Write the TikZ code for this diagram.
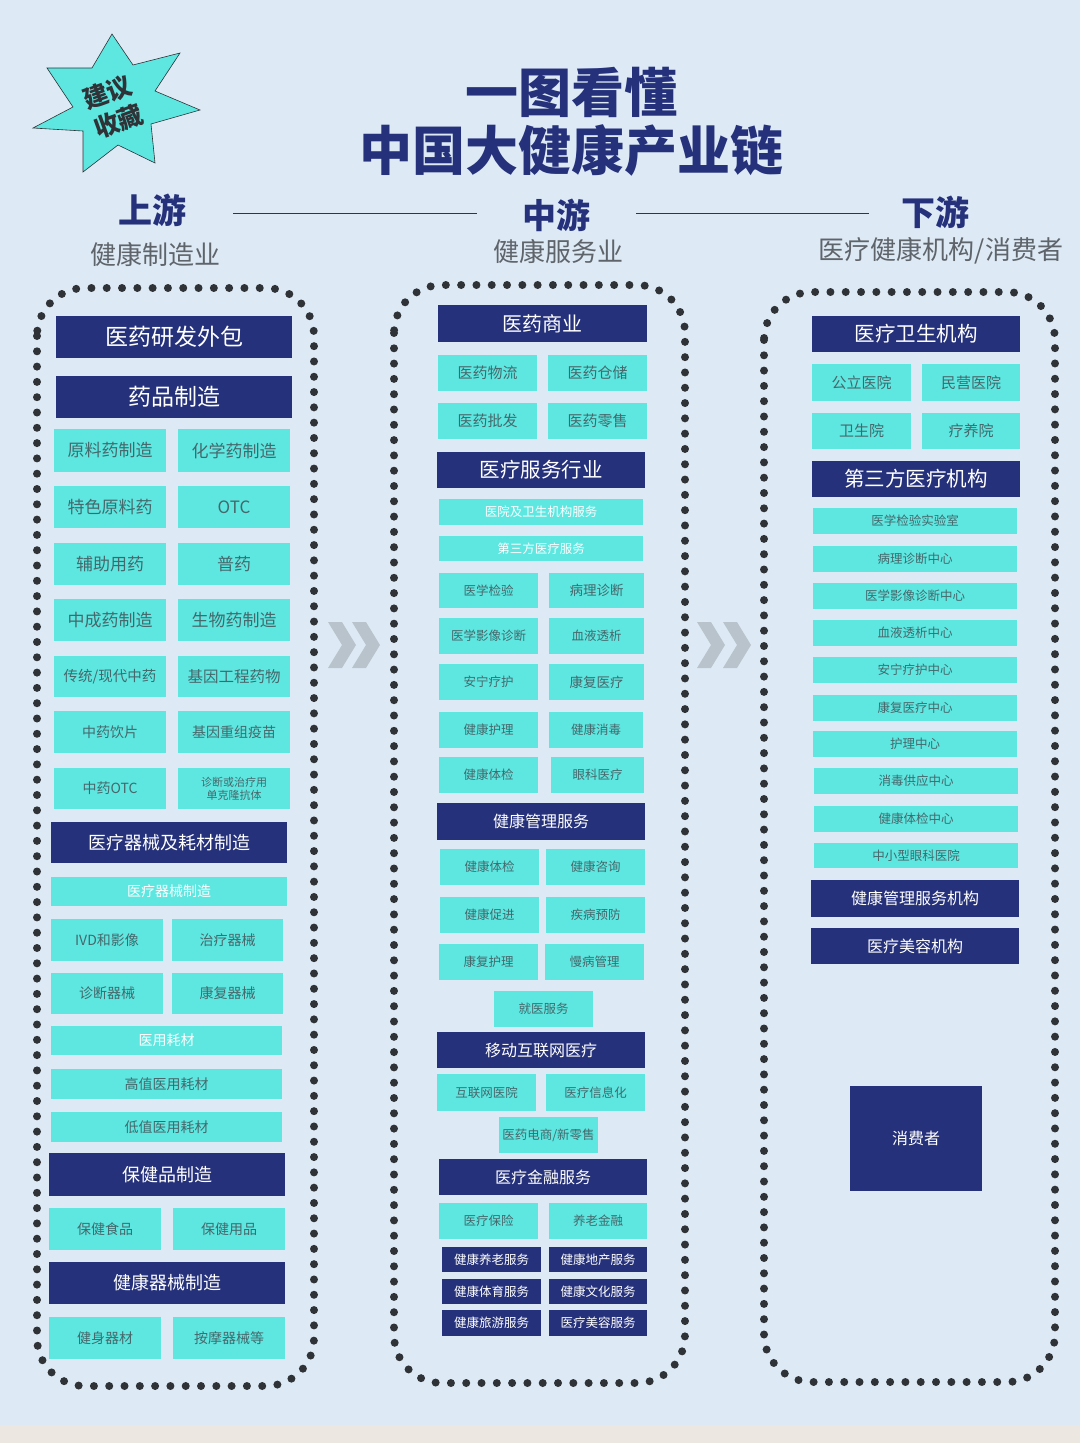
\documentclass[tikz,border=0pt]{standalone}
\usepackage{fontspec}
\setmainfont{Noto Sans CJK SC}
\usetikzlibrary{positioning}

\definecolor{navy}{HTML}{25317A}
\definecolor{aqua}{HTML}{5DE7E0}
\definecolor{tealtext}{HTML}{46686C}
\definecolor{paper}{HTML}{DDEAF6}
\definecolor{strip}{HTML}{ECE8E1}
\definecolor{dotgray}{HTML}{2F3237}
\definecolor{chev}{HTML}{B9C3CB}
\definecolor{subgray}{HTML}{5F646A}

\tikzset{
  fz/.style={font=\fontsize{#1}{#1}\selectfont},
  cell/.style={inner sep=0pt, outer sep=0pt, align=center},
  hd/.style={cell, fill=navy, text=white},
  lt/.style={cell, fill=aqua, text=tealtext},
  lw/.style={cell, fill=aqua, text=white},
  frame/.style={draw=dotgray, line width=8pt, line cap=round,
    dash pattern=on 0pt off 15.3pt, rounded corners=48pt},
}

% box from corner (x1,y1) to (x2,y2), pixel units
\newcommand{\blk}[7]{\node[#1, minimum width={(#5-#3)*1pt},
  minimum height={(#6-#4)*1pt}] (#2) at ({(#3+#5)/2},{(#4+#6)/2}) {#7};}

\begin{document}
\begin{tikzpicture}[x=1pt, y=-1pt]
\useasboundingbox (0,0) rectangle (1080,1443);
\fill[paper] (0,0) rectangle (1080,1425);
\fill[strip] (0,1425) rectangle (1080,1443);

% Stamp
\draw[fill=aqua, draw=dotgray, line width=0.6pt]
  (112,34) -- (133,65) -- (180,53) -- (155,91) -- (200,110) -- (151,124)
  -- (155,163) -- (118,145) -- (83,172) -- (83,131) -- (33,128) -- (73,107)
  -- (47,68) -- (92,68) -- cycle;
\node[cell, rotate=20, text=dotgray, font=\fontsize{25}{31}\selectfont\bfseries]
  (stamp) at (113,107) {建议\\收藏};

% Title
\node[text=navy, font=\fontsize{53}{53}\selectfont\bfseries] (t1) at (571,92) {一图看懂};
\node[text=navy, font=\fontsize{53}{53}\selectfont\bfseries] (t2) at (571,150) {中国大健康产业链};

% Stage headings
\node[text=navy, font=\fontsize{34}{34}\selectfont\bfseries] (up) at (152,210) {上游};
\node[text=subgray, fz=26] (upsub) at (155,254) {健康制造业};
\node[text=navy, font=\fontsize{34}{34}\selectfont\bfseries] (mid) at (556,215) {中游};
\node[text=subgray, fz=26] (midsub) at (558,251) {健康服务业};
\node[text=navy, font=\fontsize{34}{34}\selectfont\bfseries] (down) at (935,212) {下游};
\node[text=subgray, fz=26] (downsub) at (941,251) {医疗健康机构/消费者};
\coordinate (la) at (233,213);
\coordinate (lb) at (477,213);
\coordinate (lc) at (636,213);
\coordinate (ld) at (869,213);
\draw[navy, line width=1pt] (la) -- (lb);
\draw[navy, line width=1pt] (lc) -- (ld);

% Dotted frames
\draw[frame] (37,288) rectangle (314,1386);
\draw[frame] (394,285) rectangle (685,1383);
\draw[frame] (764,292) rectangle (1055,1382);

% Chevrons
\foreach \cx in {328,352,697,723}
  \fill[chev] (\cx,622) -- ++(14,0) -- ++(14,23) -- ++(-14,23) -- ++(-14,0) -- ++(14,-23) -- cycle;

% Upstream
\blk{hd,fz=23}{u0}{56}{316}{292}{358}{医药研发外包}
\blk{hd,fz=23}{u1}{56}{376}{292}{418}{药品制造}
\blk{lt,fz=17}{u2a}{54}{429}{166}{472}{原料药制造}
\blk{lt,fz=17}{u2b}{178}{429}{290}{472}{化学药制造}
\blk{lt,fz=17}{u3a}{54}{486}{166}{528}{特色原料药}
\blk{lt,fz=17}{u3b}{178}{486}{290}{528}{OTC}
\blk{lt,fz=17}{u4a}{54}{543}{166}{585}{辅助用药}
\blk{lt,fz=17}{u4b}{178}{543}{290}{585}{普药}
\blk{lt,fz=17}{u5a}{54}{599}{166}{641}{中成药制造}
\blk{lt,fz=17}{u5b}{178}{599}{290}{641}{生物药制造}
\blk{lt,fz=14.5}{u6a}{54}{656}{166}{697}{传统/现代中药}
\blk{lt,fz=15.5}{u6b}{178}{656}{290}{697}{基因工程药物}
\blk{lt,fz=14}{u7a}{54}{711}{166}{753}{中药饮片}
\blk{lt,fz=14}{u7b}{178}{711}{290}{753}{基因重组疫苗}
\blk{lt,fz=14}{u8a}{54}{768}{166}{809}{中药OTC}
\blk{lt,font=\fontsize{11}{13}\selectfont}{u8b}{178}{768}{290}{809}{诊断或治疗用\\单克隆抗体}
\blk{hd,fz=18}{u9}{51}{822}{287}{863}{医疗器械及耗材制造}
\blk{lw,fz=14}{u10}{51}{877}{287}{906}{医疗器械制造}
\blk{lt,fz=14}{u11a}{51}{919}{163}{961}{IVD和影像}
\blk{lt,fz=14}{u11b}{172}{919}{283}{961}{治疗器械}
\blk{lt,fz=14}{u12a}{51}{973}{163}{1014}{诊断器械}
\blk{lt,fz=14}{u12b}{172}{973}{283}{1014}{康复器械}
\blk{lw,fz=14}{u13}{51}{1026}{282}{1055}{医用耗材}
\blk{lt,fz=14}{u14}{51}{1069}{282}{1099}{高值医用耗材}
\blk{lt,fz=14}{u15}{51}{1112}{282}{1142}{低值医用耗材}
\blk{hd,fz=18}{u16}{49}{1153}{285}{1196}{保健品制造}
\blk{lt,fz=14}{u17a}{49}{1208}{161}{1250}{保健食品}
\blk{lt,fz=14}{u17b}{173}{1208}{285}{1250}{保健用品}
\blk{hd,fz=18}{u18}{49}{1262}{285}{1304}{健康器械制造}
\blk{lt,fz=14}{u19a}{49}{1317}{161}{1359}{健身器材}
\blk{lt,fz=14}{u19b}{173}{1317}{285}{1359}{按摩器械等}

% Midstream
\blk{hd,fz=20}{m0}{438}{305}{647}{342}{医药商业}
\blk{lt,fz=15}{m1a}{438}{355}{537}{391}{医药物流}
\blk{lt,fz=15}{m1b}{548}{355}{647}{391}{医药仓储}
\blk{lt,fz=15}{m2a}{438}{403}{537}{439}{医药批发}
\blk{lt,fz=15}{m2b}{548}{403}{647}{439}{医药零售}
\blk{hd,fz=20.5}{m3}{437}{452}{645}{488}{医疗服务行业}
\blk{lw,fz=12.5}{m4}{439}{499}{643}{525}{医院及卫生机构服务}
\blk{lw,fz=12.5}{m5}{439}{536}{643}{561}{第三方医疗服务}
\blk{lt,fz=12.5}{m6a}{439}{573}{538}{608}{医学检验}
\blk{lt,fz=13.5}{m6b}{549}{573}{644}{608}{病理诊断}
\blk{lt,fz=12.5}{m7a}{439}{618}{538}{654}{医学影像诊断}
\blk{lt,fz=12.5}{m7b}{549}{618}{644}{654}{血液透析}
\blk{lt,fz=12.5}{m8a}{439}{664}{538}{700}{安宁疗护}
\blk{lt,fz=13.5}{m8b}{549}{664}{644}{700}{康复医疗}
\blk{lt,fz=12.5}{m9a}{439}{712}{538}{748}{健康护理}
\blk{lt,fz=12.5}{m9b}{549}{712}{643}{748}{健康消毒}
\blk{lt,fz=12.5}{m10a}{439}{757}{538}{793}{健康体检}
\blk{lt,fz=12.5}{m10b}{551}{757}{644}{793}{眼科医疗}
\blk{hd,fz=16}{m11}{437}{803}{645}{840}{健康管理服务}
\blk{lt,fz=12.5}{m12a}{440}{849}{539}{885}{健康体检}
\blk{lt,fz=12.5}{m12b}{546}{849}{645}{885}{健康咨询}
\blk{lt,fz=12.5}{m13a}{440}{897}{539}{933}{健康促进}
\blk{lt,fz=12.5}{m13b}{546}{897}{645}{933}{疾病预防}
\blk{lt,fz=12.5}{m14a}{439}{944}{538}{980}{康复护理}
\blk{lt,fz=12.5}{m14b}{545}{944}{644}{980}{慢病管理}
\blk{lt,fz=12.5}{m15}{494}{991}{593}{1027}{就医服务}
\blk{hd,fz=16}{m16}{437}{1032}{645}{1068}{移动互联网医疗}
\blk{lt,fz=12.5}{m17a}{437}{1074}{536}{1111}{互联网医院}
\blk{lt,fz=12.5}{m17b}{546}{1074}{645}{1111}{医疗信息化}
\blk{lt,fz=12.5}{m18}{499}{1117}{598}{1153}{医药电商/新零售}
\blk{hd,fz=16}{m19}{439}{1159}{647}{1195}{医疗金融服务}
\blk{lt,fz=12.5}{m20a}{439}{1203}{538}{1239}{医疗保险}
\blk{lt,fz=12.5}{m20b}{549}{1203}{647}{1239}{养老金融}
\blk{hd,fz=12.5}{m21a}{442}{1247}{541}{1272}{健康养老服务}
\blk{hd,fz=12.5}{m21b}{549}{1247}{647}{1272}{健康地产服务}
\blk{hd,fz=12.5}{m22a}{442}{1279}{541}{1304}{健康体育服务}
\blk{hd,fz=12.5}{m22b}{549}{1279}{647}{1304}{健康文化服务}
\blk{hd,fz=12.5}{m23a}{442}{1310}{541}{1336}{健康旅游服务}
\blk{hd,fz=12.5}{m23b}{549}{1310}{647}{1336}{医疗美容服务}

% Downstream
\blk{hd,fz=20.5}{d0}{812}{316}{1020}{352}{医疗卫生机构}
\blk{lt,fz=15}{d1a}{812}{364}{911}{401}{公立医院}
\blk{lt,fz=15}{d1b}{922}{364}{1020}{401}{民营医院}
\blk{lt,fz=15}{d2a}{812}{413}{911}{449}{卫生院}
\blk{lt,fz=15}{d2b}{922}{413}{1020}{449}{疗养院}
\blk{hd,fz=20.5}{d3}{812}{461}{1020}{497}{第三方医疗机构}
\blk{lt,fz=12.5}{d4}{813}{508}{1017}{534}{医学检验实验室}
\blk{lt,fz=12.5}{d5}{813}{546}{1017}{572}{病理诊断中心}
\blk{lt,fz=12.5}{d6}{813}{583}{1017}{609}{医学影像诊断中心}
\blk{lt,fz=12.5}{d7}{813}{620}{1017}{646}{血液透析中心}
\blk{lt,fz=12.5}{d8}{813}{657}{1017}{683}{安宁疗护中心}
\blk{lt,fz=12.5}{d9}{813}{695}{1017}{721}{康复医疗中心}
\blk{lt,fz=12.5}{d10}{813}{731}{1017}{757}{护理中心}
\blk{lt,fz=12.5}{d11}{814}{768}{1018}{794}{消毒供应中心}
\blk{lt,fz=12.5}{d12}{814}{806}{1018}{832}{健康体检中心}
\blk{lt,fz=12.5}{d13}{814}{843}{1018}{868}{中小型眼科医院}
\blk{hd,fz=16}{d14}{811}{880}{1019}{917}{健康管理服务机构}
\blk{hd,fz=16}{d15}{811}{928}{1019}{964}{医疗美容机构}
\blk{hd,fz=16}{d16}{850}{1086}{982}{1191}{消费者}
\end{tikzpicture}
\end{document}
